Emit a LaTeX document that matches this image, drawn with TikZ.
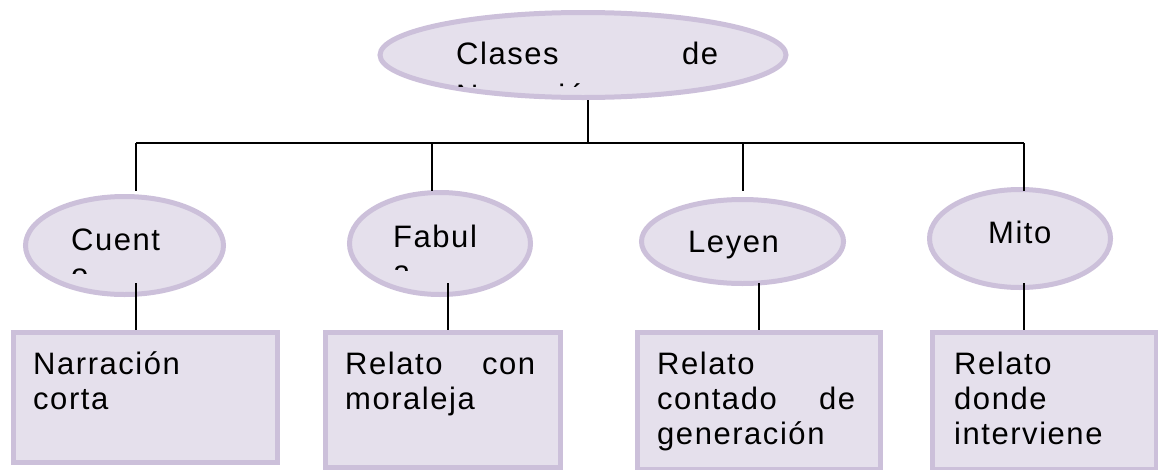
\documentclass[tikz,border=0pt]{standalone}
\usepackage{fontspec}
\setmainfont{Liberation Sans}[LetterSpace=5]
\usetikzlibrary{shapes.geometric}
\definecolor{lavline}{HTML}{CCC0DA}
\definecolor{lavfill}{HTML}{E5E0EC}
\tikzset{
  ellst/.style={ellipse, draw=lavline, fill=lavfill, line width=5pt, inner sep=0pt},
  boxst/.style={rectangle, draw=lavline, fill=lavfill, line width=5pt, inner sep=0pt, anchor=north west},
  txt/.style={anchor=base west, inner sep=0pt, font=\fontsize{31}{35}\selectfont},
  conn/.style={draw=black, line width=1.4pt}
}
\begin{document}
\begin{tikzpicture}[x=1pt,y=-1pt]
\useasboundingbox (0,0) rectangle (1158,469);
% ellipses
\node[ellst, minimum width=406pt, minimum height=85pt] (top) at (583,55) {};
\node[ellst, minimum width=198pt, minimum height=98pt] (cuento) at (124.5,245.5) {};
\node[ellst, minimum width=181pt, minimum height=102pt] (fabula) at (440,243.5) {};
\node[ellst, minimum width=202pt, minimum height=84pt] (leyenda) at (742.5,241.5) {};
\node[ellst, minimum width=181pt, minimum height=98pt] (mito) at (1020,238.5) {};
% boxes
\node[boxst, minimum width=264pt, minimum height=130pt] (b1) at (10.5,329.5) {};
\node[boxst, minimum width=235pt, minimum height=135pt] (b2) at (322.5,329.5) {};
\node[boxst, minimum width=243pt, minimum height=137pt] (b3) at (634.5,329.5) {};
\node[boxst, minimum width=224pt, minimum height=137pt] (b4) at (929.5,329.5) {};
% ellipse texts
\node[txt] (t0a) at (456,64) {\hbox to 262pt{Clases\hfill de}};
\begin{scope}
  \clip (440,70) rectangle (740,86.5);
  \node[txt] (t0b) at (456,106) {Narración};
\end{scope}
\node[txt] (t1a) at (71,250) {Cuent};
\begin{scope}
  \clip (60,255) rectangle (200,273.5);
  \node[txt] (t1b) at (71,285) {o};
\end{scope}
\node[txt] (t2a) at (393,247) {Fabul};
\begin{scope}
  \clip (380,252) rectangle (500,270.5);
  \node[txt] (t2b) at (393,282) {a};
\end{scope}
\node[txt] (t3a) at (688,252) {Leyen};
\node[txt] (t4a) at (988,243) {Mito};
% box texts
\node[txt] (n1a) at (33,374) {Narración};
\node[txt] (n1b) at (33,409) {corta};
\node[txt] (n2a) at (345,374) {\hbox to 190pt{Relato\hfill con}};
\node[txt] (n2b) at (345,409) {moraleja};
\node[txt] (n3a) at (657,374) {Relato};
\node[txt] (n3b) at (657,409) {\hbox to 198pt{contado\hfill de}};
\node[txt] (n3c) at (657,444) {generación};
\node[txt] (n4a) at (954,374) {Relato};
\node[txt] (n4b) at (954,409) {donde};
\node[txt] (n4c) at (954,444) {interviene};
% connectors
\coordinate (busc) at (588,143);
\coordinate (bA) at (136,143);
\coordinate (bB) at (432,143);
\coordinate (bC) at (743,143);
\coordinate (bD) at (1024,143);
\coordinate (eA) at (136,191);
\coordinate (eB) at (432,191);
\coordinate (eC) at (743,191);
\coordinate (eD) at (1024,191);
\draw[conn] (busc |- top.south) -- (busc);
\draw[conn] (bA) -- (bD);
\draw[conn] (bA) -- (eA);
\draw[conn] (bB) -- (eB);
\draw[conn] (bC) -- (eC);
\draw[conn] (bD) -- (eD);
\coordinate (cA) at (136,283);
\coordinate (cB) at (448,283);
\coordinate (cC) at (759,283);
\coordinate (cD) at (1024,283);
\draw[conn] (cA) -- (cA |- b1.north);
\draw[conn] (cB) -- (cB |- b2.north);
\draw[conn] (cC) -- (cC |- b3.north);
\draw[conn] (cD) -- (cD |- b4.north);
\end{tikzpicture}
\end{document}
